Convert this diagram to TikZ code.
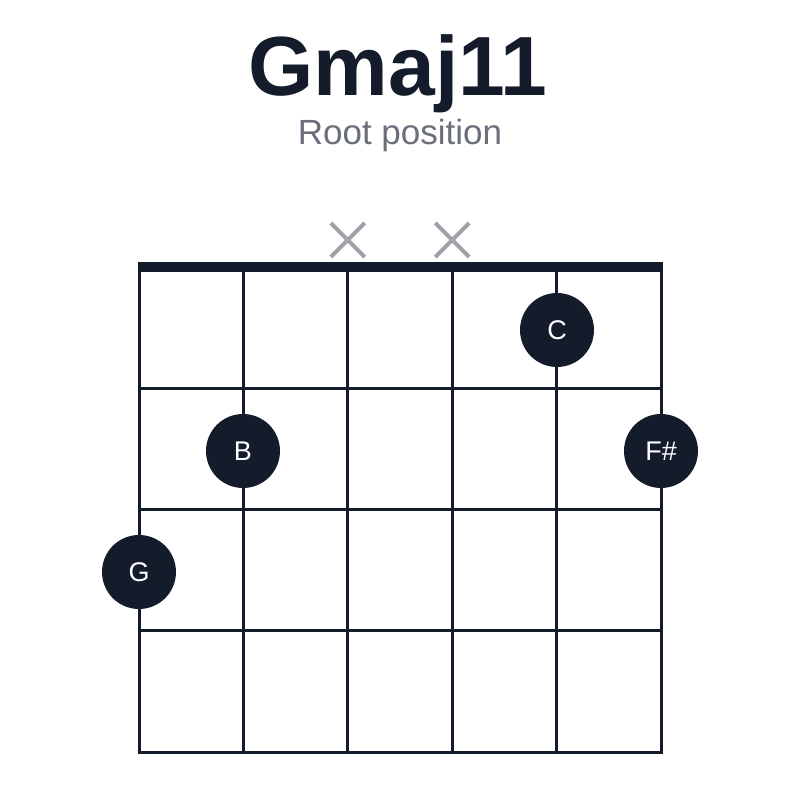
\documentclass[tikz,border=0pt]{standalone}
\usepackage{fontspec}
\setmainfont{Liberation Sans}
\definecolor{ink}{HTML}{141B2B}
\definecolor{mute}{HTML}{A0A3AB}
\definecolor{sub}{HTML}{6B6F7A}
\tikzset{
  dot/.style={circle,fill=ink,minimum size=74pt,inner sep=0,text=white,font=\fontsize{27}{27}\selectfont},
  wire/.style={ink,line width=3pt},
  cross/.style={mute,line width=4pt}
}
\begin{document}
\begin{tikzpicture}[x=1pt,y=-1pt]
\useasboundingbox (0,0) rectangle (800,800);
\node (title) at (398,74) [font=\fontsize{84}{84}\selectfont\bfseries,text=ink] {Gmaj11};
\node (sub) at (400,135) [font=\fontsize{35}{35}\selectfont,text=sub] {Root position};
% strings and frets
\foreach \s in {0,...,5}
  \draw[wire] (139+104.4*\s,267) -- (139+104.4*\s,752);
\foreach \f in {1,...,4}
  \draw[wire] (137.5,267+121.25*\f) -- (662.5,267+121.25*\f);
\draw[ink,line width=10pt] (137.5,267) -- (662.5,267);
% muted strings
\foreach \s in {2,3}
  \draw[cross] (139+104.4*\s-17,223) -- (139+104.4*\s+17,257)
               (139+104.4*\s-17,257) -- (139+104.4*\s+17,223);
% fingers
\node (C) at (557,330) [dot] {C};
\node (B) at (243,451) [dot] {B};
\node (Fs) at (661,451) [dot] {F\#};
\node (G) at (139,572) [dot] {G};
\end{tikzpicture}
\end{document}
